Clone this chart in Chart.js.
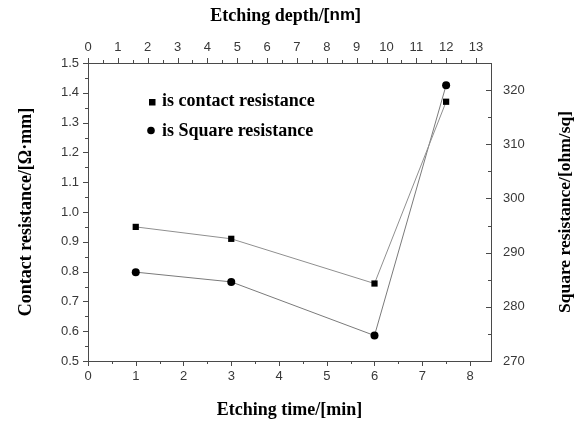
<!DOCTYPE html>
<html>
<head>
<meta charset="utf-8">
<script src="https://cdn.jsdelivr.net/npm/chart.js@4/dist/chart.umd.min.js"></script>
<style>
  html, body { margin: 0; padding: 0; background: #ffffff; }
  #wrap { width: 584px; height: 421px; position: relative; }
</style>
</head>
<body>
<div id="wrap"><canvas id="c" width="584" height="421"></canvas></div>
<script>
// ---- data ----
const etchTimes = [1, 3, 6, 7.5];
const contactResistance = [0.95, 0.91, 0.76, 1.37];
const squareResistance = [286.4, 284.6, 274.7, 320.9];

// ---- tick labels ----
const bottomTicks = [0, 1, 2, 3, 4, 5, 6, 7, 8];
const topTicks = [0, 1, 2, 3, 4, 5, 6, 7, 8, 9, 10, 11, 12, 13];
const leftTicks = [0.5, 0.6, 0.7, 0.8, 0.9, 1.0, 1.1, 1.2, 1.3, 1.4, 1.5];
const rightTicks = [270, 280, 290, 300, 310, 320];

// ---- text ----
const bottomTitle = 'Etching time/[min]';
const topTitleA = 'Etching depth/';
const topTitleB = '[nm]';
const leftTitle = 'Contact resistance/[\u03A9\u00B7mm]';
const rightTitle = 'Square resistance/[ohm/sq]';
const legendLabels = ['is contact resistance', 'is Square resistance'];

const AXIS = '#4a4a4a';
const TICKTXT = '#383838';
const tickFont = { family: '"Liberation Sans", Arial, sans-serif', size: 13 };
const serifFamily = '"Liberation Serif", "Times New Roman", serif';
const serifBold = 'bold 18px ' + serifFamily;

function setTicks(arr) {
  return function (scale) { scale.ticks = arr.map(v => ({ value: v })); };
}
function mids(arr) {
  const m = [];
  for (let i = 0; i < arr.length - 1; i++) m.push((arr[i] + arr[i + 1]) / 2);
  return m;
}

const tickPlugin = {
  id: 'tickmarks',
  afterDraw(chart) {
    const ctx = chart.ctx;
    const s = chart.scales;
    const ca = chart.chartArea;
    ctx.save();
    ctx.strokeStyle = AXIS;
    ctx.lineWidth = 1;
    function vtick(scale, vals, y0, len) {
      vals.forEach(v => {
        const x = Math.round(scale.getPixelForValue(v)) + 0.5;
        ctx.beginPath(); ctx.moveTo(x, y0); ctx.lineTo(x, y0 + len); ctx.stroke();
      });
    }
    function htick(scale, vals, x0, len) {
      vals.forEach(v => {
        const y = Math.round(scale.getPixelForValue(v)) + 0.5;
        ctx.beginPath(); ctx.moveTo(x0, y); ctx.lineTo(x0 + len, y); ctx.stroke();
      });
    }
    vtick(s.x, bottomTicks, ca.bottom, 5);
    vtick(s.x, mids(bottomTicks), ca.bottom, 3);
    vtick(s.x2, topTicks, ca.top, -5);
    vtick(s.x2, mids(topTicks), ca.top, -3);
    htick(s.y, leftTicks, ca.left, -5);
    htick(s.y, mids(leftTicks), ca.left, -3);
    htick(s.y2, rightTicks, ca.right, -5);
    htick(s.y2, mids(rightTicks), ca.right, -3);
    ctx.restore();
  }
};

const textPlugin = {
  id: 'texts',
  afterDraw(chart) {
    const ctx = chart.ctx;
    const ca = chart.chartArea;
    ctx.save();
    ctx.fillStyle = '#000';
    // legend
    ctx.fillRect(149, 99, 6.5, 6.5);
    ctx.beginPath(); ctx.arc(151, 130.5, 3.8, 0, Math.PI * 2); ctx.fill();
    ctx.font = serifBold;
    ctx.textBaseline = 'middle';
    ctx.textAlign = 'left';
    ctx.fillText(legendLabels[0], 162, 101);
    ctx.fillText(legendLabels[1], 162, 131);
    // top title (mixed fonts)
    const fa = serifBold;
    const fb = 'bold 17px "Liberation Sans", Arial, sans-serif';
    ctx.font = fa; const wa = ctx.measureText(topTitleA).width;
    ctx.font = fb; const wb = ctx.measureText(topTitleB).width;
    const cx = (ca.left + ca.right) / 2 - 4;
    const x0 = cx - (wa + wb) / 2;
    ctx.font = fa; ctx.fillText(topTitleA, x0, 16);
    ctx.font = fb; ctx.fillText(topTitleB, x0 + wa, 15);
    // right title rotated, reading bottom-to-top
    ctx.font = 'bold 17.5px ' + serifFamily;
    ctx.textAlign = 'center';
    ctx.translate(565, (ca.top + ca.bottom) / 2);
    ctx.rotate(-Math.PI / 2);
    ctx.fillText(rightTitle, 0, 0);
    ctx.restore();
  }
};

new Chart(document.getElementById('c'), {
  type: 'scatter',
  data: {
    datasets: [
      {
        label: legendLabels[0],
        data: etchTimes.map((t, i) => ({ x: t, y: contactResistance[i] })),
        xAxisID: 'x', yAxisID: 'y',
        showLine: true,
        borderColor: '#8f8f8f', borderWidth: 1,
        pointStyle: 'rect', pointRadius: 4.4,
        pointBackgroundColor: '#000', pointBorderColor: '#000', pointBorderWidth: 0
      },
      {
        label: legendLabels[1],
        data: etchTimes.map((t, i) => ({ x: t, y: squareResistance[i] })),
        xAxisID: 'x', yAxisID: 'y2',
        showLine: true,
        borderColor: '#7a7a7a', borderWidth: 1,
        pointStyle: 'circle', pointRadius: 4,
        pointBackgroundColor: '#000', pointBorderColor: '#000', pointBorderWidth: 0
      }
    ]
  },
  options: {
    responsive: false,
    animation: false,
    layout: { padding: 0 },
    plugins: { legend: { display: false }, tooltip: { enabled: false } },
    scales: {
      x: {
        type: 'linear', position: 'bottom', min: 0, max: 8.44,
        afterBuildTicks: setTicks(bottomTicks),
        afterFit(scale) { scale.height = 60; },
        grid: { display: false, drawTicks: false },
        border: { display: true, color: AXIS, width: 1 },
        ticks: { color: TICKTXT, font: tickFont, padding: 8, maxRotation: 0, callback: v => String(v) },
        title: { display: true, text: bottomTitle, color: '#000',
                 font: { family: serifFamily, size: 18, weight: 'bold' },
                 padding: { top: 0, bottom: 0 } }
      },
      x2: {
        type: 'linear', position: 'top', min: 0, max: 13.5,
        afterBuildTicks: setTicks(topTicks),
        afterFit(scale) { scale.height = 63; },
        grid: { display: false, drawTicks: false },
        border: { display: true, color: AXIS, width: 1 },
        ticks: { color: TICKTXT, font: tickFont, padding: 8, maxRotation: 0, callback: v => String(v) }
      },
      y: {
        type: 'linear', position: 'left', min: 0.5, max: 1.5,
        afterBuildTicks: setTicks(leftTicks),
        afterFit(scale) { scale.width = 88; },
        grid: { display: false, drawTicks: false },
        border: { display: true, color: AXIS, width: 1 },
        ticks: { color: TICKTXT, font: tickFont, padding: 9, callback: v => Number(v).toFixed(1) },
        title: { display: true, text: leftTitle, color: '#000',
                 font: { family: serifFamily, size: 18, weight: 'bold' },
                 padding: { top: 16, bottom: 0 } }
      },
      y2: {
        type: 'linear', position: 'right', min: 270, max: 325,
        afterBuildTicks: setTicks(rightTicks),
        afterFit(scale) { scale.width = 93; },
        grid: { display: false, drawTicks: false },
        border: { display: true, color: AXIS, width: 1 },
        ticks: { color: TICKTXT, font: tickFont, padding: 12, callback: v => String(v) }
      }
    }
  },
  plugins: [tickPlugin, textPlugin]
});
</script>
</body>
</html>
